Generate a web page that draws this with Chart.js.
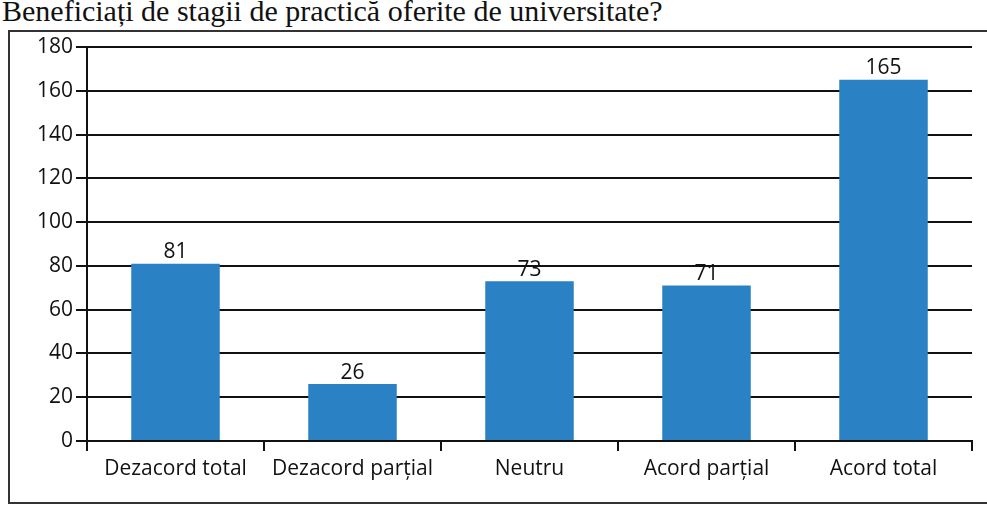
<!DOCTYPE html>
<html>
<head>
<meta charset="utf-8">
<script src="https://cdn.jsdelivr.net/npm/chart.js@4"></script>
<style>
  html, body { margin: 0; padding: 0; background: #fff; }
  body { width: 987px; height: 511px; position: relative; overflow: hidden; }
  #title { position: absolute; left: 2px; top: -6px; font-family: "Liberation Serif", "DejaVu Serif", serif; font-size: 30px; line-height: 34px; color: #111; white-space: nowrap; }
  #box { position: absolute; left: 8px; top: 30px; width: 1000px; height: 474px; border: 2px solid #333; box-sizing: border-box; }
  #c { position: absolute; left: 0; top: 0; }
</style>
</head>
<body>
<div id="title">Beneficiați de stagii de practică oferite de universitate?</div>
<div id="box"></div>
<canvas id="c" width="987" height="511"></canvas>
<script>
const categories = ["Dezacord total", "Dezacord parțial", "Neutru", "Acord parțial", "Acord total"];
const values = [81, 26, 73, 71, 165];
const yTicks = [0, 20, 40, 60, 80, 100, 120, 140, 160, 180];

const valueLabels = {
  id: 'valueLabels',
  afterDatasetsDraw(chart) {
    const ctx = chart.ctx;
    const meta = chart.getDatasetMeta(0);
    ctx.save();
    ctx.fillStyle = '#111';
    ctx.font = '21px "Open Sans", sans-serif';
    ctx.textAlign = 'center';
    ctx.textBaseline = 'bottom';
    meta.data.forEach((el, i) => {
      ctx.fillText(String(chart.data.datasets[0].data[i]), el.x, el.y - 1);
    });
    ctx.restore();
  }
};

new Chart(document.getElementById('c'), {
  type: 'bar',
  data: {
    labels: categories,
    datasets: [{
      data: values,
      backgroundColor: '#2a81c3',
      borderWidth: 0,
      barPercentage: 0.5,
      categoryPercentage: 1.0
    }]
  },
  options: {
    responsive: false,
    maintainAspectRatio: false,
    animation: false,
    devicePixelRatio: 1,
    layout: { padding: { top: 47, right: 15, left: 0, bottom: 0 } },
    plugins: { legend: { display: false }, tooltip: { enabled: false }, title: { display: false } },
    scales: {
      x: {
        offset: true,
        afterFit(scale) { scale.height = 70; },
        grid: { offset: true, drawOnChartArea: false, drawTicks: true, tickLength: 10, color: '#111', lineWidth: 2 },
        border: { display: true, color: '#111', width: 2 },
        ticks: { color: '#111', font: { family: '"Open Sans", sans-serif', size: 21 }, padding: 5, maxRotation: 0, autoSkip: false }
      },
      y: {
        min: 0, max: 180,
        afterFit(scale) { scale.width = 87; },
        afterBuildTicks(scale) { scale.ticks = yTicks.map(v => ({ value: v })); },
        grid: { color: '#111', lineWidth: 2, drawTicks: true, tickLength: 11 },
        border: { display: true, color: '#111', width: 2 },
        ticks: { color: '#111', font: { family: '"Open Sans", sans-serif', size: 21 }, padding: 3 }
      }
    }
  },
  plugins: [valueLabels]
});
</script>
</body>
</html>
